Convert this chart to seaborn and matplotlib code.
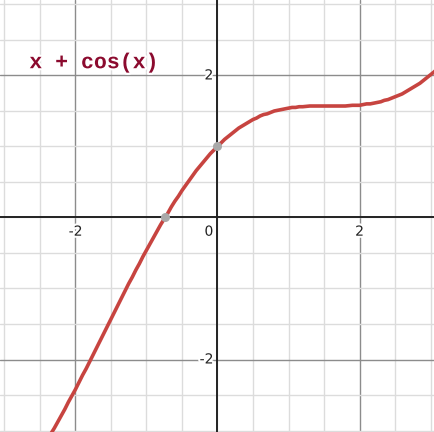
import numpy as np
import pandas as pd
import matplotlib
matplotlib.use('Agg')
import matplotlib.pyplot as plt
import matplotlib.patheffects as pe
import seaborn as sns

# curve y = x + cos(x) (every 0.05)
xs = [-2.40, -2.35, -2.30, -2.25, -2.20, -2.15, -2.10, -2.05, -2.00, -1.95,
      -1.90, -1.85, -1.80, -1.75, -1.70, -1.65, -1.60, -1.55, -1.50, -1.45,
      -1.40, -1.35, -1.30, -1.25, -1.20, -1.15, -1.10, -1.05, -1.00, -0.95,
      -0.90, -0.85, -0.80, -0.75, -0.70, -0.65, -0.60, -0.55, -0.50, -0.45,
      -0.40, -0.35, -0.30, -0.25, -0.20, -0.15, -0.10, -0.05, 0.00, 0.05,
      0.10, 0.15, 0.20, 0.25, 0.30, 0.35, 0.40, 0.45, 0.50, 0.55,
      0.60, 0.65, 0.70, 0.75, 0.80, 0.85, 0.90, 0.95, 1.00, 1.05,
      1.10, 1.15, 1.20, 1.25, 1.30, 1.35, 1.40, 1.45, 1.50, 1.55,
      1.60, 1.65, 1.70, 1.75, 1.80, 1.85, 1.90, 1.95, 2.00, 2.05,
      2.10, 2.15, 2.20, 2.25, 2.30, 2.35, 2.40, 2.45, 2.50, 2.55,
      2.60, 2.65, 2.70, 2.75, 2.80, 2.85, 2.90, 2.95, 3.00, 3.05, 3.10]
ys = [-3.14, -3.05, -2.97, -2.88, -2.79, -2.70, -2.60, -2.51, -2.42, -2.32,
      -2.22, -2.13, -2.03, -1.93, -1.83, -1.73, -1.63, -1.53, -1.43, -1.33,
      -1.23, -1.13, -1.03, -0.93, -0.84, -0.74, -0.65, -0.55, -0.46, -0.37,
      -0.28, -0.19, -0.10, -0.02, 0.06, 0.15, 0.23, 0.30, 0.38, 0.45,
      0.52, 0.59, 0.66, 0.72, 0.78, 0.84, 0.90, 0.95, 1.00, 1.05,
      1.10, 1.14, 1.18, 1.22, 1.26, 1.29, 1.32, 1.35, 1.38, 1.40,
      1.43, 1.45, 1.46, 1.48, 1.50, 1.51, 1.52, 1.53, 1.54, 1.55,
      1.55, 1.56, 1.56, 1.565, 1.57, 1.57, 1.57, 1.57, 1.57, 1.57,
      1.57, 1.57, 1.57, 1.57, 1.57, 1.575, 1.58, 1.58, 1.58, 1.59,
      1.60, 1.60, 1.61, 1.62, 1.63, 1.65, 1.66, 1.68, 1.70, 1.72,
      1.74, 1.77, 1.80, 1.83, 1.86, 1.89, 1.93, 1.97, 2.01, 2.05, 2.10]

# marked points: x-intercept and y-intercept
pt_x = [-0.739, 0.0]
pt_y = [0.0, 1.0]

tick_vals = [-2, 2]
label = "x + cos(x)"

df = pd.DataFrame({'x': xs, 'y': ys})

sns.set_style('white')
fig = plt.figure(figsize=(4.34, 4.32), dpi=100)
ax = fig.add_axes([0, 0, 1, 1])

ax.set_xlim(-3.063, 3.049)
ax.set_ylim(-3.021, 3.063)

ax.set_xticks(tick_vals)
ax.set_yticks(tick_vals)
ax.set_xticks(np.arange(-3, 3.01, 0.5), minor=True)
ax.set_yticks(np.arange(-3, 3.01, 0.5), minor=True)
ax.grid(which='minor', color='#dcdcdc', lw=1.0, zorder=0)
ax.grid(which='major', color='#8c8c8c', lw=1.0, zorder=0)
ax.tick_params(which='both', length=0, labelbottom=False, labelleft=False)
for s in ax.spines.values():
    s.set_visible(False)

ax.axhline(0, color='#222222', lw=1.4, zorder=1)
ax.axvline(0, color='#222222', lw=1.4, zorder=1)

sns.lineplot(data=df, x='x', y='y', ax=ax, color='#c74440', lw=2.6,
             zorder=3, sort=False)
ax.set_xlabel('')
ax.set_ylabel('')
ax.plot(pt_x, pt_y, 'o', color='#a9a9a9', ms=6.5, mec='none', zorder=4)

halo = [pe.withStroke(linewidth=3, foreground='white')]
for t in tick_vals:
    ax.text(t, -0.2, f'{t}', ha='center', va='center',
            fontsize=10, color='#222222', path_effects=halo, zorder=2)
    ax.text(-0.06, t, f'{t}', ha='right', va='center',
            fontsize=10, color='#222222', path_effects=halo, zorder=2)
ax.text(-0.06, -0.2, '0', ha='right', va='center', fontsize=10,
        color='#222222', path_effects=halo, zorder=2)

ax.text(-2.65, 2.18, label, ha='left', va='center', fontsize=15.5,
        fontweight='bold', family='Liberation Mono', color='#8b0a2e',
        path_effects=halo, zorder=5)

fig.savefig('out.png', dpi=100)
